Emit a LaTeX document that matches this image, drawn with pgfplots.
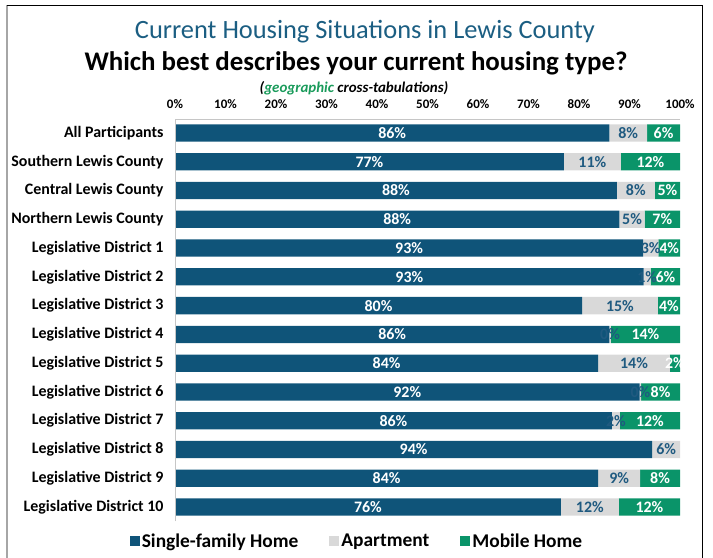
\documentclass[border=0pt]{standalone}
\usepackage{pgfplots}
\pgfplotsset{compat=1.18}
\usepackage{pgfplotstable}
\usepackage{fontspec}
\setmainfont{Carlito}
\definecolor{sfh}{HTML}{0F5479}
\definecolor{apt}{HTML}{D9D9D9}
\definecolor{mob}{HTML}{0A9469}
\definecolor{ttl}{HTML}{1B5E82}
\definecolor{aptlab}{HTML}{1F5A80}
\definecolor{geo}{HTML}{1A9B5B}

\pgfplotstableread{
idx sfh apt mob ls la lm
13 86 7.5 6.5 86 8 6
12 77 11.3 11.7 77 11 12
11 87.5 7.5 5 88 8 5
10 88 5 7 88 5 7
9 92.7 3 4.3 93 3 4
8 92.8 1.4 5.8 93 1 6
7 80.6 15 4.4 80 15 4
6 86 0.3 13.7 86 0 14
5 83.8 14.2 2 84 14 2
4 92 0.3 7.7 92 0 8
3 86.5 1.6 11.9 86 2 12
2 94.5 5.5 0 94 6 0
1 83.8 8.3 7.9 84 9 8
0 76.4 11.5 12.1 76 12 12
}\data

\begin{document}
\begin{tikzpicture}
\useasboundingbox (0,0) rectangle (713bp,-558bp);
% frame
\draw[gray!70,line width=1.5bp] (7bp,-558bp) -- (7bp,-5bp);
\draw[black,line width=1bp] (7bp,-5bp) -- (702bp,-5bp) -- (702bp,-558bp);
% titles
\node[font=\fontsize{26.5}{26.5}\selectfont, text=ttl] at (365bp,-32bp) {Current Housing Situations in Lewis County};
\node[font=\bfseries\fontsize{27}{27}\selectfont] at (356bp,-63bp) {Which best describes your current housing type?};
\node[font=\bfseries\itshape\fontsize{15}{15}\selectfont] at (354bp,-88bp) {(\textcolor{geo}{geographic} cross-tabulations)};
\begin{axis}[
  at={(175bp,-521.4bp)}, anchor=south west,
  scale only axis, width=505bp, height=402.8bp,
  xbar stacked, bar width=0.6,
  xmin=0, xmax=100, ymin=-0.5, ymax=13.5,
  axis line style={draw=none},
  xtick={0,10,...,100},
  xticklabels={0\%,10\%,20\%,30\%,40\%,50\%,60\%,70\%,80\%,90\%,100\%},
  xticklabel pos=upper,
  xticklabel style={font=\bfseries\fontsize{13}{13}\selectfont, yshift=6bp},
  major tick style={draw=none},
  ytick={0,...,13},
  yticklabels={Legislative District 10,Legislative District 9,Legislative District 8,Legislative District 7,Legislative District 6,Legislative District 5,Legislative District 4,Legislative District 3,Legislative District 2,Legislative District 1,Northern Lewis County,Central Lewis County,Southern Lewis County,All Participants},
  yticklabel style={font=\bfseries\fontsize{16}{16}\selectfont, xshift=-8bp},
  /pgf/number format/assume math mode=true,
  point meta=explicit,
  nodes near coords={\pgfmathprintnumber[fixed,precision=0]{\pgfplotspointmeta}\%},
  nodes near coords style={font=\bfseries\fontsize{16}{16}\selectfont, anchor=center},
  legend columns=3,
  legend style={draw=none, at={(0.3604,-0.0487)}, anchor=center, font=\bfseries\fontsize{19.5}{19.5}\selectfont,
    /tikz/every even column/.append style={column sep=29bp}},
  legend image code/.code={\fill[#1,draw=none] (0bp,-5bp) rectangle (10bp,5bp);},
]
\addplot[fill=sfh, draw=none, nodes near coords style={text=white}] table[x=sfh, y=idx, meta=ls] {\data};
\addlegendentry{Single-family Home}
\addplot[fill=apt, draw=none, nodes near coords style={text=aptlab}] table[x=apt, y=idx, meta=la] {\data};
\addlegendentry{Apartment}
\addplot[fill=mob, draw=none, nodes near coords style={text=white}] table[x=mob, y=idx, meta=lm] {\data};
\addlegendentry{Mobile Home}
\end{axis}
\draw[gray!45, line width=1bp] (175bp,-521.4bp) -- (175bp,-119.6bp) -- (680bp,-119.6bp);
\end{tikzpicture}
\end{document}
